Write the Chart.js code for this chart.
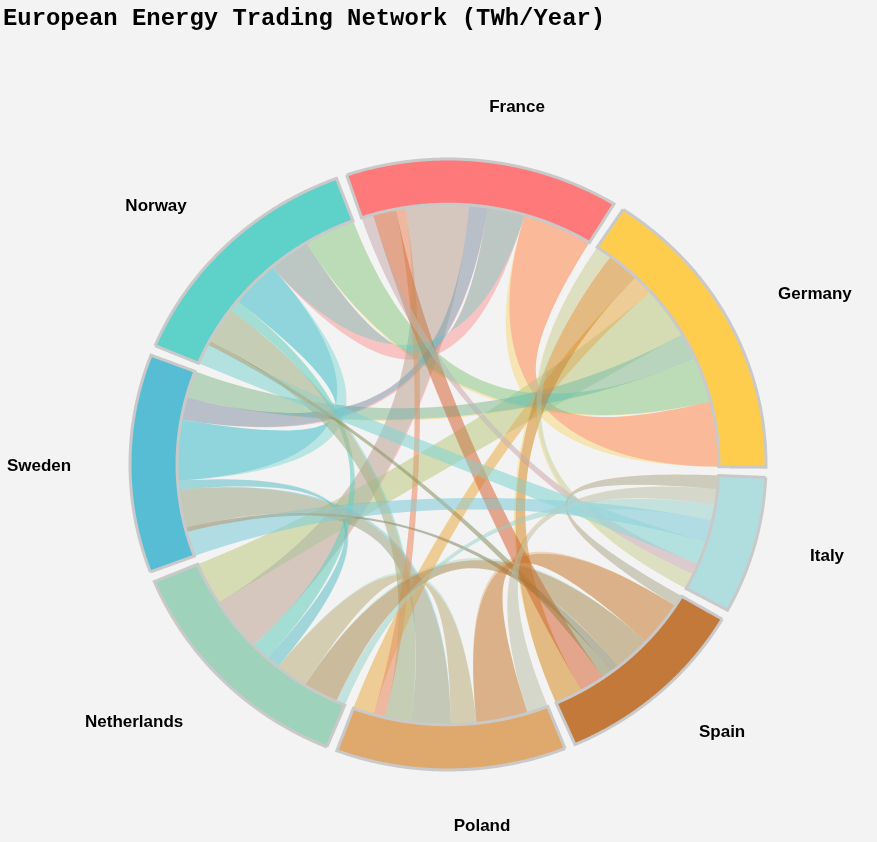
<!DOCTYPE html>
<html lang="en">
<head>
<meta charset="UTF-8" />
<title>European Energy Trading Network</title>
<script src="https://cdn.jsdelivr.net/npm/chart.js@4/dist/chart.umd.min.js"></script>
<style>
  html, body { margin: 0; padding: 0; background: #f3f3f3; }
  #wrap { width: 877px; height: 842px; }
</style>
</head>
<body>
<div id="wrap"><canvas id="chart"></canvas></div>
<script>
const countries = ['France', 'Germany', 'Italy', 'Spain', 'Poland', 'Netherlands', 'Sweden', 'Norway'];
const colors = ['#FF6B6B', '#FFC93C', '#A8DADC', '#BC6C25', '#DDA15E', '#96CEB4', '#45B7D1', '#4ECDC4'];

// flow ends in TWh (row = country, same order as countries)
const france = [0, 30, 5, 10, 4, 27, 8, 16];
const germany = [29, 0, 7, 14, 9, 23, 12, 20];
const italy = [5, 7, 0, 6, 7, 7, 10, 10];
const spain = [11, 12, 5, 0, 20, 16, 4, 4];
const poland = [5, 9, 9, 22, 0, 11, 17, 11];
const netherlands = [24, 19, 4, 15, 14, 0, 6, 8];
const sweden = [10, 12, 11, 2, 17, 4, 0, 27];
const norway = [18, 22, 9, 2, 16, 5, 21, 0];
const flows = [france, germany, italy, spain, poland, netherlands, sweden, norway];

// order of the ribbon ends inside each arc, and which colour gets painted first
const slotOrder = [2, 3, 4, 5, 6, 7, 0, 1];
const paintOrder = [1, 0, 5, 7, 6, 4, 3, 2];

const START_ANGLE = -18.6;
const GAP = 1.93;
const INNER = 0.852;
const CTRL = 0.3 * INNER;
const FAR_WIDEN = 0.45; // ribbons crossing the middle stay wider there
const RIBBON_ALPHA = 0.35;
const W = 877, H = 842, TOP = 33.7, LEFT = 3;
const CX = 448, CY = 464.5, RX = 318, RY = 305.5;

// the later ribbon of a pair is slimmer on the side facing the centre, mostly on these three pairs
const slimDefault = 0.05;
const slimPairs = { '7-0': 0.3, '6-7': 0.2, '0-1': 0.2 };

function polar(r, deg) {
  const a = deg * Math.PI / 180;
  return { x: r * Math.sin(a), y: r * Math.cos(a) };
}

function rgba(hex, alpha) {
  const n = parseInt(hex.slice(1), 16);
  return `rgba(${n >> 16},${(n >> 8) & 255},${n & 255},${alpha})`;
}

function arcPoints(r, from, to) {
  const pts = [];
  const steps = Math.max(2, Math.ceil(Math.abs(to - from) / 1.5));
  for (let s = 0; s <= steps; s++) pts.push(polar(r, from + (to - from) * s / steps));
  return pts;
}

function separation(a, b) {
  const d = Math.abs(a - b) % 360;
  return d > 180 ? 360 - d : d;
}

function bezier(a0, a1, ctrl) {
  const p0 = polar(INNER, a0), p1 = polar(ctrl, a0), p2 = polar(ctrl, a1), p3 = polar(INNER, a1);
  const pts = [];
  for (let s = 1; s < 48; s++) {
    const t = s / 48, u = 1 - t;
    pts.push({
      x: u * u * u * p0.x + 3 * u * u * t * p1.x + 3 * u * t * t * p2.x + t * t * t * p3.x,
      y: u * u * u * p0.y + 3 * u * u * t * p1.y + 3 * u * t * t * p2.y + t * t * t * p3.y,
    });
  }
  return pts;
}

// lay the arcs and the ribbon ends out around the circle
const total = flows.flat().reduce((a, b) => a + b, 0);
const degPerTWh = (360 - GAP * countries.length) / total;
const groups = [];
const slots = {};
let cursor = START_ANGLE;
countries.forEach((name, i) => {
  const start = cursor;
  slotOrder.forEach((j) => {
    if (j === i) return;
    const w = flows[i][j] * degPerTWh;
    slots[i + '-' + j] = [cursor, cursor + w];
    cursor += w;
  });
  groups.push({ start, end: cursor });
  cursor += GAP;
});

const datasets = [];
let drawn = 0;

function ribbonData(i, j) {
  const [s1, e1] = slots[i + '-' + j];
  const [s2, e2] = slots[j + '-' + i];
  const sepA = separation(e1, s2), sepB = separation(e2, s1);
  let c1 = CTRL * (1 + FAR_WIDEN * Math.max(0, (sepA - 90) / 90));
  let c2 = CTRL * (1 + FAR_WIDEN * Math.max(0, (sepB - 90) / 90));
  if (paintOrder.indexOf(i) > paintOrder.indexOf(j)) {
    const width = Math.min(e1 - s1, e2 - s2);
    const slim = slimPairs[i + '-' + j] || slimDefault;
    const pull = 1 + slim * Math.min(1, width / 6);
    if (sepA > sepB) c1 *= pull; else c2 *= pull;
  }
  return [
    ...arcPoints(INNER, s1, e1),
    ...bezier(e1, s2, c1),
    ...arcPoints(INNER, s2, e2),
    ...bezier(e2, s1, c2),
  ];
}

paintOrder.forEach((i) => {
  slotOrder.forEach((j) => {
    if (j === i) return;
    datasets.push({
      data: ribbonData(i, j),
      showLine: true,
      fill: 'shape',
      tension: 0,
      pointRadius: 0,
      borderWidth: 0,
      borderDash: [1, 0], // keeps Chart.js off its per-pixel fast path
      backgroundColor: rgba(colors[i], RIBBON_ALPHA),
      order: -(drawn++),
    });
  });
});

groups.forEach((g, i) => {
  const data = [...arcPoints(1, g.start, g.end), ...arcPoints(INNER, g.end, g.start)];
  data.push(data[0]);
  datasets.push({
    data,
    showLine: true,
    fill: 'shape',
    tension: 0,
    pointRadius: 0,
    borderWidth: 3,
    borderColor: '#c9c9c9',
    borderDash: [1, 0],
    borderJoinStyle: 'miter',
    backgroundColor: rgba(colors[i], 0.9),
    order: -(drawn++),
  });
});

// country name anchors, in the same units as the circle (radius 1)
const labelX = [0.217, 1.154, 1.192, 0.862, 0.107, -0.987, -1.286, -0.918];
const labelY = [1.17, 0.558, -0.2995, -0.876, -1.183, -0.843, -0.005, 0.846];

const countryLabels = {
  id: 'countryLabels',
  afterDatasetsDraw(chart) {
    const { ctx, scales } = chart;
    ctx.save();
    ctx.font = 'bold 17px "Liberation Sans"';
    ctx.fillStyle = '#000';
    ctx.textAlign = 'center';
    ctx.textBaseline = 'middle';
    countries.forEach((name, i) => {
      ctx.fillText(name, scales.x.getPixelForValue(labelX[i]), scales.y.getPixelForValue(labelY[i]));
    });
    ctx.restore();
  },
};

new Chart(document.getElementById('chart'), {
  type: 'scatter',
  data: { datasets },
  plugins: [countryLabels],
  options: {
    responsive: true,
    maintainAspectRatio: false,
    animation: false,
    layout: { autoPadding: false, padding: { left: LEFT } },
    plugins: {
      legend: { display: false },
      tooltip: { enabled: false },
      title: {
        display: true,
        text: 'European Energy Trading Network (TWh/Year)',
        align: 'start',
        color: '#000',
        font: { family: '"Liberation Mono"', size: 23.9, weight: 'bold', lineHeight: 1.2 },
        padding: { top: 5, bottom: 0 },
      },
    },
    scales: {
      x: { type: 'linear', display: false, min: (LEFT - CX) / RX, max: (W - CX) / RX },
      y: { type: 'linear', display: false, min: (CY - H) / RY, max: (CY - TOP) / RY },
    },
  },
});
</script>
</body>
</html>
